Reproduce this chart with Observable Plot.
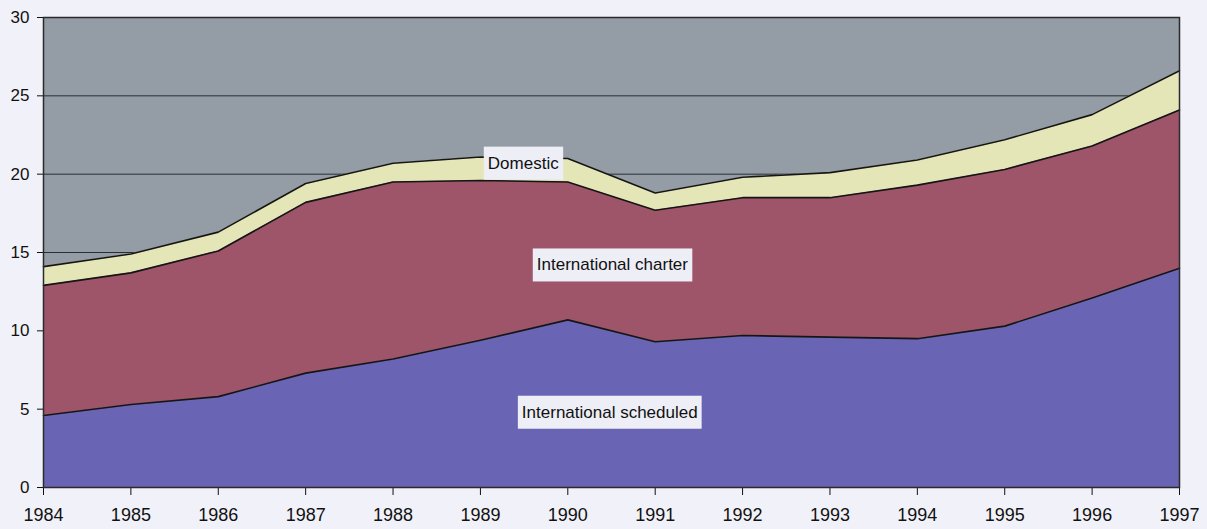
<!DOCTYPE html>
<html><head><meta charset="utf-8">
<script src="https://cdn.jsdelivr.net/npm/d3@7"></script>
<script src="https://cdn.jsdelivr.net/npm/@observablehq/plot@0.6"></script>
<style>
html,body{margin:0;padding:0;background:#f1f1f9;}
#chart{width:1207px;height:529px;}
</style>
</head><body><div id="chart"></div>
<script>
const years = [1984,1985,1986,1987,1988,1989,1990,1991,1992,1993,1994,1995,1996,1997];
const scheduled = [4.6,5.3,5.8,7.3,8.2,9.4,10.7,9.3,9.7,9.6,9.5,10.3,12.1,14.0];
const charter   = [8.3,8.4,9.3,10.9,11.3,10.2,8.8,8.4,8.8,8.9,9.8,10.0,9.7,10.1];
const domestic  = [1.2,1.2,1.2,1.2,1.2,1.5,1.5,1.1,1.3,1.6,1.6,1.9,2.0,2.5];
const seriesNames = ["International scheduled","International charter","Domestic"];
const seriesColors = ["#6964b3","#9e5569","#e4e6b8"];
const yTicks = [0,5,10,15,20,25,30];
const labelNames = ["Domestic","International charter","International scheduled"];
const labelX = [1989.49,1990.51,1990.48];
const labelY = [20.7,14.2,4.8];

const seriesValues = [scheduled, charter, domestic];
const data = [];
seriesNames.forEach((s, i) => years.forEach((yr, j) => data.push({series: s, year: yr, value: seriesValues[i][j]})));
const labels = labelNames.map((t, i) => ({text: t, x: labelX[i], y: labelY[i]}));

const stackOpts = {x: "year", y: "value", z: "series", order: seriesNames};

const plot = Plot.plot({
  width: 1207,
  height: 529,
  marginLeft: 43,
  marginRight: 28,
  marginTop: 17,
  marginBottom: 42,
  style: {fontFamily: "'Liberation Sans', Arial, sans-serif", fontSize: "18px", color: "#111", background: "transparent"},
  x: {domain: [1984, 1997], ticks: years, tickFormat: "d", tickSize: 8, tickPadding: 13, label: null},
  y: {domain: [0, 30], ticks: yTicks, tickSize: 6, tickPadding: 8, label: null},
  color: {domain: seriesNames, range: seriesColors},
  marks: [
    Plot.frame({fill: "#949da6"}),
    Plot.ruleY(yTicks, {stroke: "#2a2e33", strokeWidth: 1}),
    Plot.areaY(data, {...stackOpts, fill: "series"}),
    Plot.lineY(data, Plot.stackY2({...stackOpts, stroke: "#151515", strokeWidth: 1.6})),
    Plot.frame({stroke: "#2a2a2a", strokeWidth: 1.5}),
    Plot.text(labels, {x: "x", y: "y", text: "text", fontSize: 17, fill: "#111"})
  ]
});
document.getElementById("chart").appendChild(plot);

// add light boxes behind the annotation labels
const padX = 4, padY = 7;
plot.querySelectorAll('g[aria-label="text"] text').forEach(t => {
  const b = t.getBBox();
  const r = document.createElementNS("http://www.w3.org/2000/svg", "rect");
  r.setAttribute("x", b.x - padX);
  r.setAttribute("y", b.y - padY);
  r.setAttribute("width", b.width + 2 * padX);
  r.setAttribute("height", b.height + 2 * padY);
  r.setAttribute("fill", "#eeeef6");
  const tr = t.getAttribute("transform");
  if (tr) r.setAttribute("transform", tr);
  t.parentNode.insertBefore(r, t);
});
plot.querySelectorAll('g[aria-label="y-axis tick label"] text, g[aria-label="y-axis"] text').forEach(t => t.style.fontSize = "17px");
</script>
</body></html>
